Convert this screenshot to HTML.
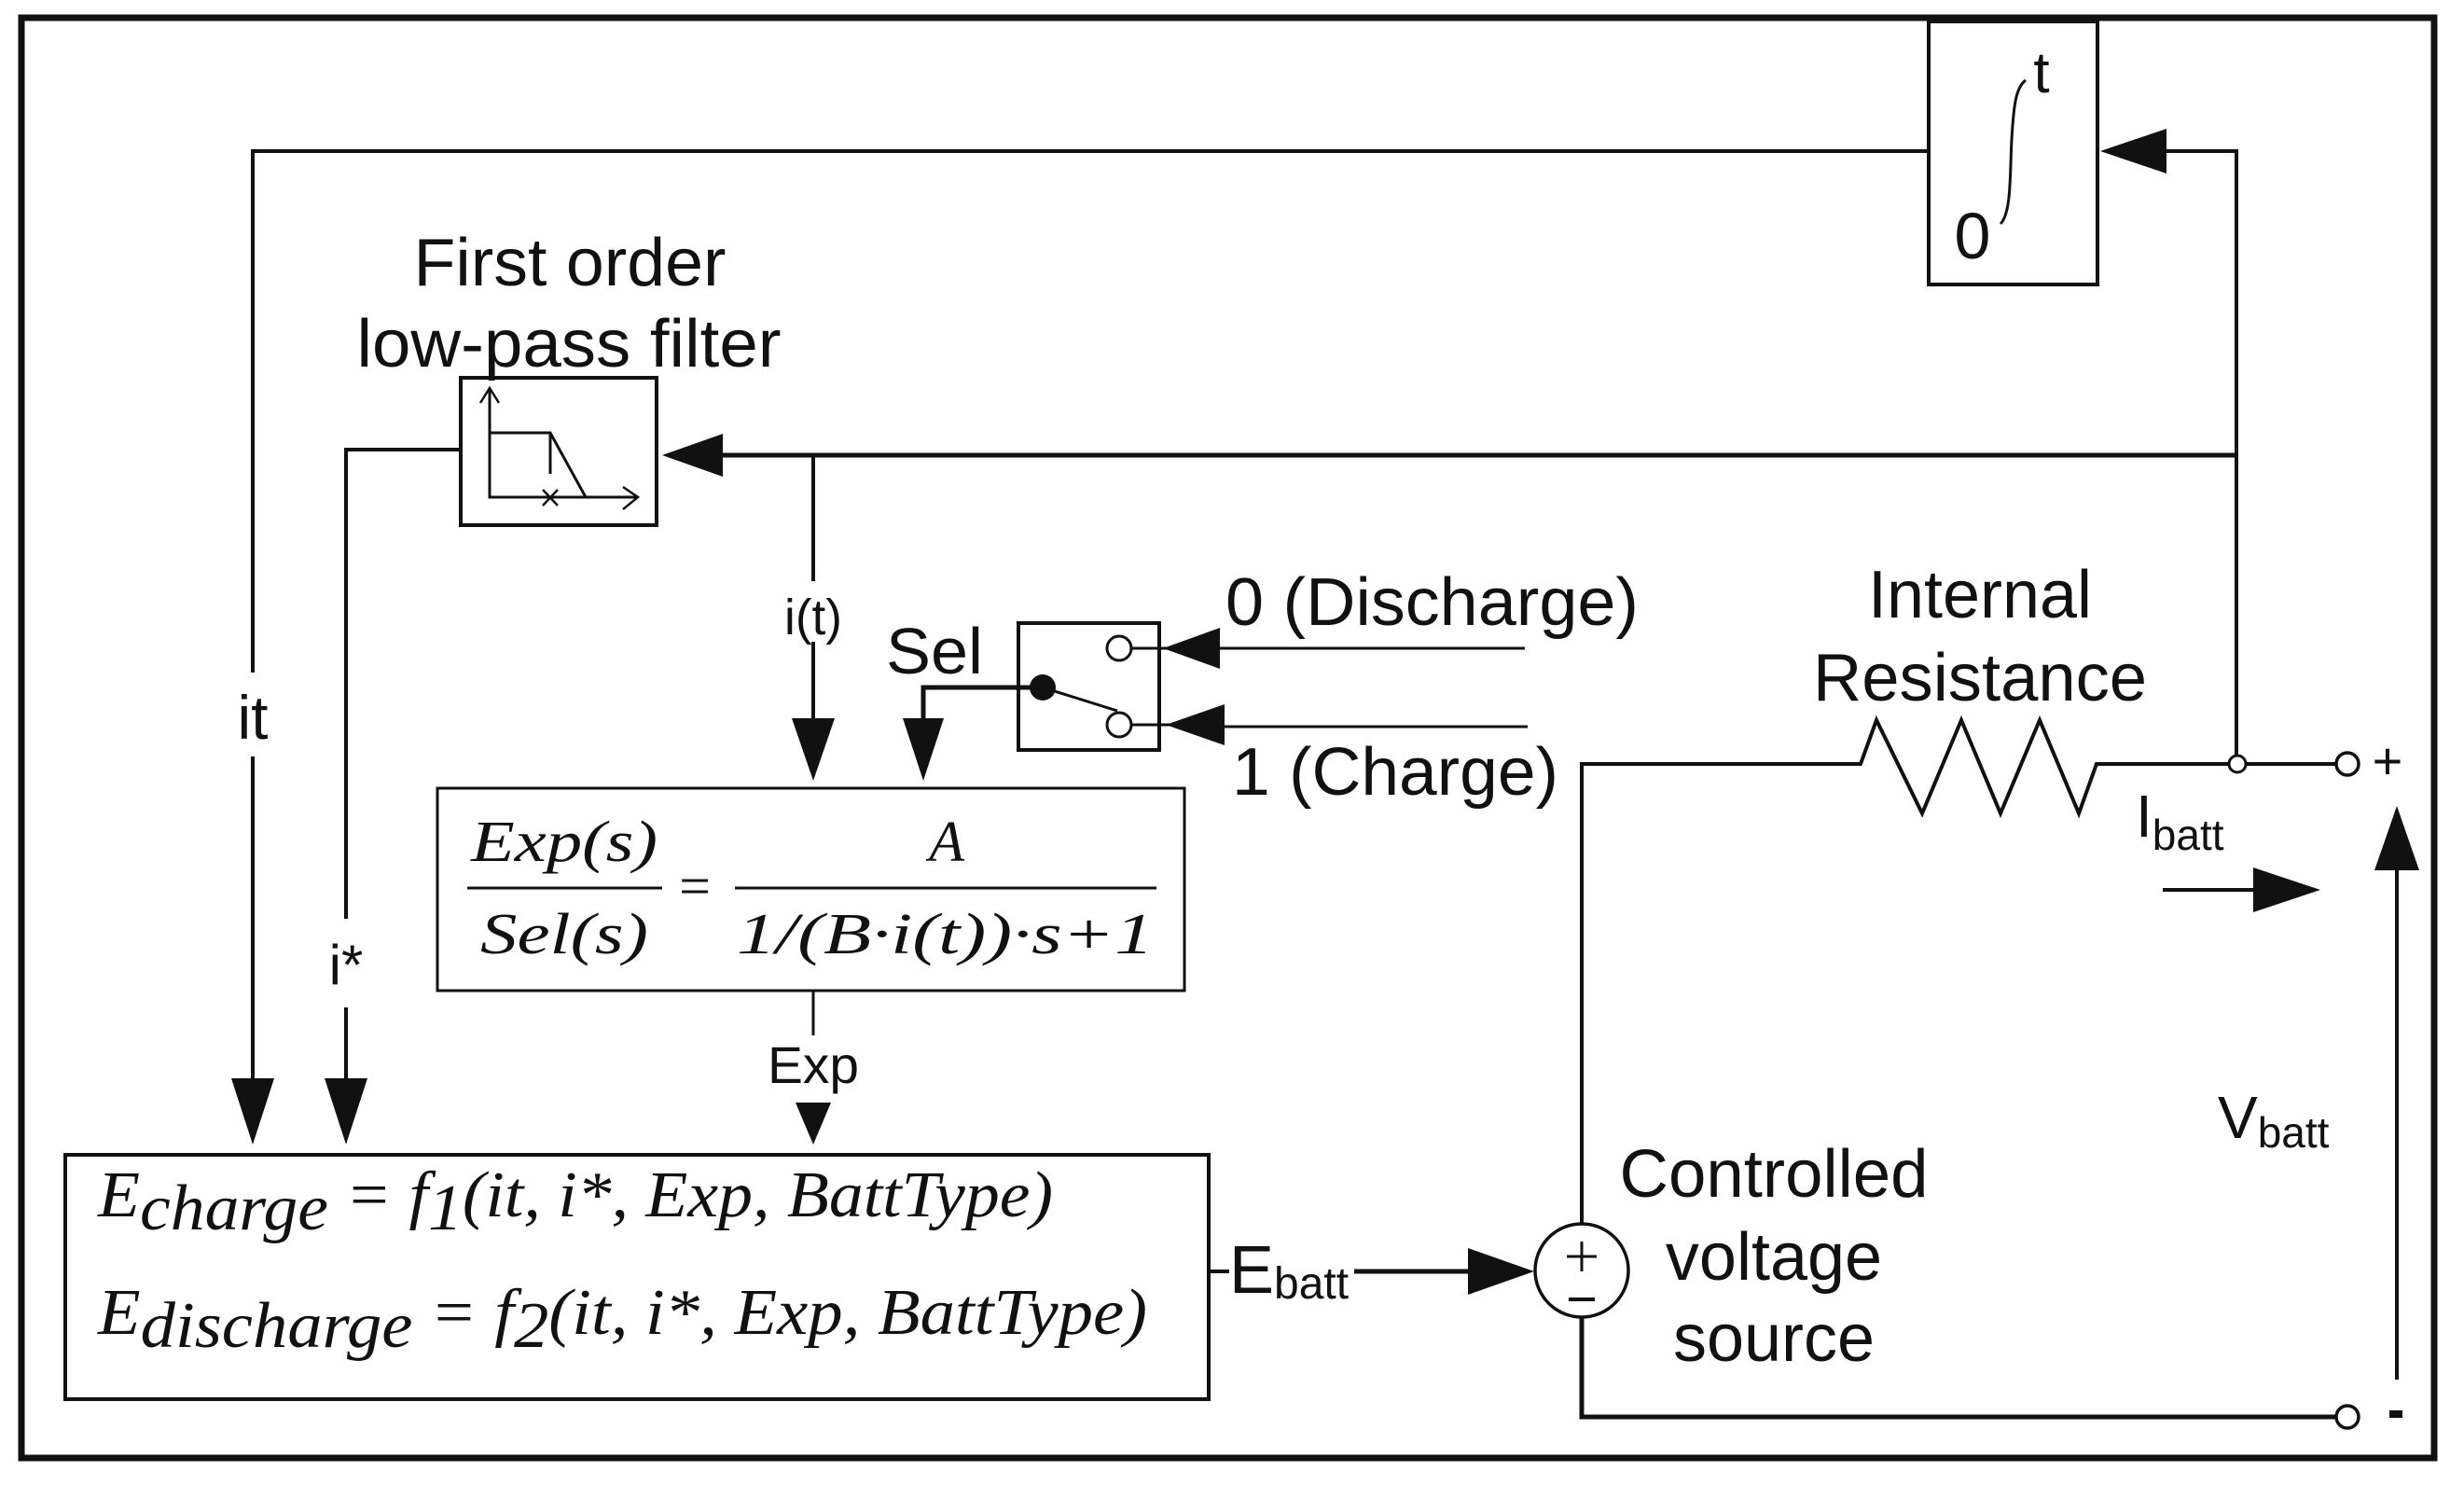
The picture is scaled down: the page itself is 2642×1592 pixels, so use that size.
<!DOCTYPE html>
<html><head><meta charset="utf-8"><style>
html,body{margin:0;padding:0;background:#fff;}
svg{display:block;}
.s{font-family:"Liberation Sans",sans-serif;fill:#111;}
.m{font-family:"Liberation Serif",serif;font-style:italic;fill:#111;}
.r{font-family:"Liberation Serif",serif;fill:#111;}
</style></head><body>
<svg width="2642" height="1592" viewBox="0 0 2642 1592" xmlns="http://www.w3.org/2000/svg">
<rect x="0" y="0" width="2642" height="1592" fill="#fff"/>
<rect x="23" y="19" width="2587" height="1544" fill="none" stroke="#111" stroke-width="7"/>
<g stroke="#111" stroke-width="4" fill="none">
  <polyline points="2068,162 271,162 271,721"/>
  <line x1="271" y1="811" x2="271" y2="1160"/>
  <rect x="2068" y="23" width="181" height="282" stroke-width="4"/>
  <polyline points="2320,162 2398,162 2398,810"/>
  <line x1="770" y1="488" x2="2398" y2="488" stroke-width="5"/>
  <rect x="494" y="405" width="210" height="158" stroke-width="4"/>
  <polyline points="494,482 371,482 371,985"/>
  <line x1="371" y1="1080" x2="371" y2="1160"/>
  <polyline points="525,418 525,533 682,533" stroke-width="3"/>
  <polyline points="515,432 525,416 535,432" stroke-width="2.5"/>
  <polyline points="668,522 684,533 668,546" stroke-width="2.5"/>
  <polyline points="525,464 590,464 628,533" stroke-width="3"/>
  <line x1="590" y1="464" x2="590" y2="508" stroke-width="3"/>
  <line x1="582" y1="525" x2="598" y2="542" stroke-width="2.5"/>
  <line x1="598" y1="525" x2="582" y2="542" stroke-width="2.5"/>
  <line x1="872" y1="488" x2="872" y2="623"/>
  <line x1="872" y1="688" x2="872" y2="780"/>
  <rect x="1092" y="668" width="151" height="136" stroke-width="4"/>
  <circle cx="1200" cy="695" r="13" stroke-width="3"/>
  <circle cx="1200" cy="777" r="13" stroke-width="3"/>
  <line x1="1213" y1="695" x2="1300" y2="695" stroke-width="3"/>
  <line x1="1213" y1="777" x2="1300" y2="777" stroke-width="3"/>
  <line x1="1118" y1="737" x2="1198" y2="762" stroke-width="3"/>
  <polyline points="1118,737 990,737 990,780" stroke-width="5"/>
  <line x1="1300" y1="695" x2="1635" y2="695" stroke-width="3"/>
  <line x1="1300" y1="779" x2="1638" y2="779" stroke-width="3"/>
  <rect x="469" y="845" width="801" height="217" stroke-width="3"/>
  <line x1="872" y1="1062" x2="872" y2="1110" stroke-width="3"/>
  <rect x="70" y="1238" width="1226" height="262" stroke-width="4"/>
  <line x1="1296" y1="1363" x2="1318" y2="1363" stroke-width="4"/>
  <line x1="1452" y1="1363" x2="1580" y2="1363" stroke-width="5"/>
  <circle cx="1696" cy="1362" r="50" stroke-width="3.5"/>
  <polyline points="1696,1312 1696,819 1995,819 2012,772 2061,872 2103,772 2145,872 2187,772 2229,872 2248,819 2390,819" stroke-width="4"/>
  <line x1="2408" y1="819" x2="2505" y2="819" stroke-width="4"/>
  <circle cx="2399" cy="819" r="9" stroke-width="3"/>
  <circle cx="2517" cy="819" r="12" stroke-width="3.5"/>
  <polyline points="1696,1412 1696,1519 2505,1519" stroke-width="5"/>
  <circle cx="2517" cy="1519" r="12" stroke-width="3.5"/>
  <line x1="2570" y1="1479" x2="2570" y2="925" stroke-width="4"/>
  <line x1="2319" y1="954" x2="2420" y2="954" stroke-width="4"/>
  <line x1="1680" y1="1347" x2="1712" y2="1347" stroke-width="3"/>
  <line x1="1696" y1="1331" x2="1696" y2="1363" stroke-width="3"/>
  <line x1="1682" y1="1393" x2="1710" y2="1393" stroke-width="4"/>
  <path d="M2145,240 C2157,228 2155,185 2157,150 C2159,115 2161,94 2172,86" stroke-width="3"/>
</g>
<g fill="#111">
  <polygon points="2252,162 2323,138 2323,186"/>
  <polygon points="710,488 775,465 775,511"/>
  <polygon points="271,1227 248,1156 294,1156"/>
  <polygon points="371,1227 348,1156 394,1156"/>
  <polygon points="872,837 849,770 895,770"/>
  <polygon points="990,837 968,770 1012,770"/>
  <polygon points="872,1227 853,1182 891,1182"/>
  <polygon points="1247,695 1308,673 1308,717"/>
  <polygon points="1250,777 1313,755 1313,799"/>
  <circle cx="1118" cy="737" r="14"/>
  <polygon points="1645,1363 1574,1338 1574,1388"/>
  <polygon points="2488,954 2416,930 2416,978"/>
  <polygon points="2570,864 2546,933 2594,933"/>
  <rect x="2562" y="1512" width="14" height="8"/>
</g>
<text class="s" x="2189" y="99" font-size="62" text-anchor="middle">t</text>
<text class="s" x="2115" y="277" font-size="70" text-anchor="middle">0</text>
<text class="s" x="611" y="306" font-size="72" text-anchor="middle" textLength="335" lengthAdjust="spacingAndGlyphs">First order</text>
<text class="s" x="610" y="393" font-size="72" text-anchor="middle" textLength="455" lengthAdjust="spacingAndGlyphs">low-pass filter</text>
<text class="s" x="271" y="792" font-size="66" text-anchor="middle">it</text>
<text class="s" x="371" y="1055" font-size="60" text-anchor="middle">i*</text>
<text class="s" x="872" y="680" font-size="54" text-anchor="middle" textLength="62" lengthAdjust="spacingAndGlyphs">i(t)</text>
<text class="s" x="1002" y="722" font-size="70" text-anchor="middle" textLength="104" lengthAdjust="spacingAndGlyphs">Sel</text>
<text class="s" x="1314" y="670" font-size="72" textLength="443" lengthAdjust="spacingAndGlyphs">0 (Discharge)</text>
<text class="s" x="1321" y="852" font-size="72" textLength="350" lengthAdjust="spacingAndGlyphs">1 (Charge)</text>
<text class="s" x="2123" y="662" font-size="72" text-anchor="middle" textLength="240" lengthAdjust="spacingAndGlyphs">Internal</text>
<text class="s" x="2123" y="751" font-size="72" text-anchor="middle" textLength="358" lengthAdjust="spacingAndGlyphs">Resistance</text>
<text class="s" x="2290" y="897" font-size="64">I<tspan font-size="46" dy="14">batt</tspan></text>
<text class="s" x="2378" y="1220" font-size="64">V<tspan font-size="46" dy="10">batt</tspan></text>
<text class="s" x="2560" y="835" font-size="56" text-anchor="middle">+</text>
<text class="s" x="872" y="1161" font-size="56" text-anchor="middle" textLength="98" lengthAdjust="spacingAndGlyphs">Exp</text>
<text class="s" x="1318" y="1386" font-size="72">E<tspan font-size="48" dy="6">batt</tspan></text>
<text class="s" x="1902" y="1283" font-size="72" text-anchor="middle" textLength="331" lengthAdjust="spacingAndGlyphs">Controlled</text>
<text class="s" x="1902" y="1372" font-size="72" text-anchor="middle">voltage</text>
<text class="s" x="1902" y="1459" font-size="72" text-anchor="middle">source</text>
<text class="m" x="605" y="923" font-size="62" text-anchor="middle" textLength="200" lengthAdjust="spacingAndGlyphs">Exp(s)</text>
<line x1="501" y1="952" x2="710" y2="952" stroke="#111" stroke-width="3"/>
<text class="m" x="605" y="1022" font-size="62" text-anchor="middle" textLength="180" lengthAdjust="spacingAndGlyphs">Sel(s)</text>
<text class="r" x="745" y="970" font-size="60" text-anchor="middle">=</text>
<text class="m" x="1015" y="923" font-size="62" text-anchor="middle">A</text>
<line x1="788" y1="952" x2="1240" y2="952" stroke="#111" stroke-width="3"/>
<text class="m" x="790" y="1022" font-size="62" textLength="447" lengthAdjust="spacingAndGlyphs">1/(B·i(t))·s+1</text>
<text class="m" x="105" y="1304" font-size="70" textLength="1024" lengthAdjust="spacingAndGlyphs">E<tspan dy="14">charge</tspan><tspan dy="-14"> = f</tspan><tspan class="r" dy="14">1</tspan><tspan dy="-14">(it, i*, Exp, BattType)</tspan></text>
<text class="m" x="105" y="1430" font-size="70" textLength="1125" lengthAdjust="spacingAndGlyphs">E<tspan dy="14">discharge</tspan><tspan dy="-14"> = f</tspan><tspan class="r" dy="14">2</tspan><tspan dy="-14">(it, i*, Exp, BattType)</tspan></text>
</svg>
</body></html>
